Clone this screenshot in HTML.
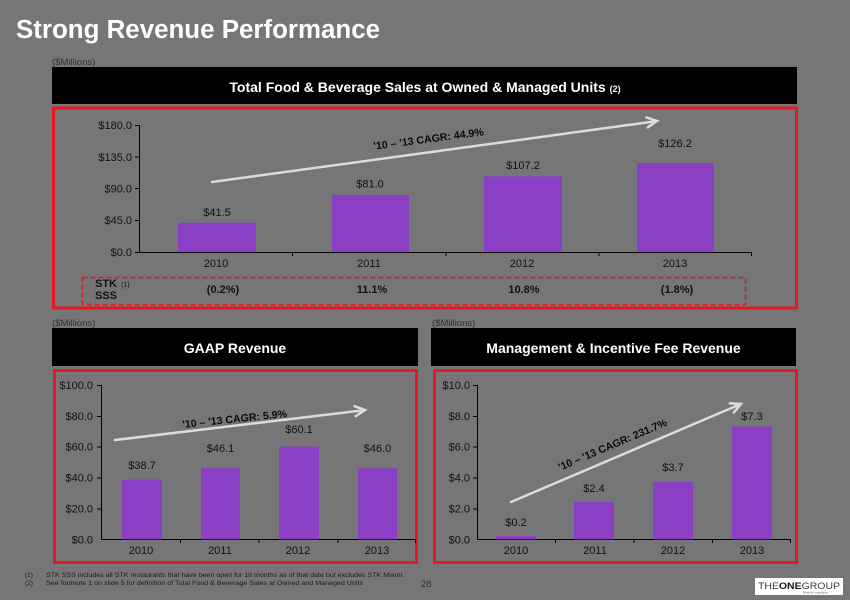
<!DOCTYPE html>
<html><head><meta charset="utf-8"><style>
html,body{margin:0;padding:0;background:#767676;}
svg{display:block;}
text{font-family:"Liberation Sans",Arial,sans-serif;}
</style></head><body>
<svg width="850" height="600" viewBox="0 0 850 600" xmlns="http://www.w3.org/2000/svg">
<rect x="0" y="0" width="850" height="600" fill="#767676"/>

<!-- Title -->
<text x="16" y="38" font-size="25.5" font-weight="bold" fill="#ffffff" textLength="364" lengthAdjust="spacingAndGlyphs">Strong Revenue Performance</text>

<!-- ===== Top section ===== -->
<text x="52" y="65" font-size="9.5" fill="#303030">($Millions)</text>
<rect x="52" y="67" width="745" height="37" fill="#000"/>
<text x="425" y="92" font-size="14" font-weight="bold" fill="#fff" text-anchor="middle">Total Food &amp; Beverage Sales at Owned &amp; Managed Units <tspan font-size="9">(2)</tspan></text>
<rect x="53.5" y="108" width="743" height="200" fill="none" stroke="#e3191f" stroke-width="3"/>

<!-- axes -->
<g stroke="#000" stroke-width="1" fill="none">
<line x1="139.5" y1="125" x2="139.5" y2="252"/>
<line x1="139" y1="252.5" x2="752" y2="252.5"/>
<line x1="135" y1="125.5" x2="139" y2="125.5"/>
<line x1="135" y1="157" x2="139" y2="157"/>
<line x1="135" y1="188.5" x2="139" y2="188.5"/>
<line x1="135" y1="220.5" x2="139" y2="220.5"/>
<line x1="135" y1="252.5" x2="139" y2="252.5"/>
<line x1="292.5" y1="252" x2="292.5" y2="256"/>
<line x1="446" y1="252" x2="446" y2="256"/>
<line x1="599" y1="252" x2="599" y2="256"/>
<line x1="751.5" y1="252" x2="751.5" y2="256"/>
</g>
<g font-size="11" fill="#111" text-anchor="end">
<text x="132" y="129">$180.0</text>
<text x="132" y="161">$135.0</text>
<text x="132" y="192.5">$90.0</text>
<text x="132" y="224">$45.0</text>
<text x="132" y="256">$0.0</text>
</g>
<g fill="#8a3fc4">
<rect x="178" y="222.7" width="78" height="29.3"/>
<rect x="332" y="194.8" width="77" height="57.2"/>
<rect x="484" y="176.4" width="78" height="75.6"/>
<rect x="637" y="163" width="77" height="89"/>
</g>
<g font-size="11" fill="#111" text-anchor="middle">
<text x="217" y="216">$41.5</text>
<text x="370" y="187.5">$81.0</text>
<text x="523" y="169">$107.2</text>
<text x="675" y="147">$126.2</text>
<text x="216" y="267">2010</text>
<text x="369" y="267">2011</text>
<text x="522" y="267">2012</text>
<text x="675" y="267">2013</text>
</g>
<!-- CAGR arrow top -->
<g stroke="#dcdcdc" stroke-width="2.5" fill="none" stroke-linecap="round">
<line x1="212" y1="182" x2="656" y2="121.2"/>
<polyline points="647.8,127.3 657,121 646.4,117.4"/>
</g>
<text x="429" y="142.5" font-size="10.6" font-weight="bold" fill="#0a0a0a" text-anchor="middle" transform="rotate(-7.5 429 142.5)">'10 – '13 CAGR: 44.9%</text>

<!-- STK SSS box -->
<rect x="82.5" y="277.5" width="663" height="27" fill="none" stroke="#e3191f" stroke-width="1.4" stroke-dasharray="5,3"/>
<text x="95" y="287" font-size="11" font-weight="bold" fill="#111">STK <tspan font-size="7" font-weight="normal" dx="1">(1)</tspan></text>
<text x="95" y="299" font-size="11" font-weight="bold" fill="#111">SSS</text>
<g font-size="11" font-weight="bold" fill="#111" text-anchor="middle">
<text x="223" y="293">(0.2%)</text>
<text x="372" y="293">11.1%</text>
<text x="524" y="293">10.8%</text>
<text x="677" y="293">(1.8%)</text>
</g>

<!-- ===== GAAP Revenue ===== -->
<text x="52" y="326" font-size="9.5" fill="#303030">($Millions)</text>
<rect x="52" y="328" width="366" height="38" fill="#000"/>
<text x="235" y="353" font-size="14" font-weight="bold" fill="#fff" text-anchor="middle">GAAP Revenue</text>
<rect x="54.5" y="370.5" width="362" height="192" fill="none" stroke="#e3191f" stroke-width="3"/>

<g stroke="#000" stroke-width="1" fill="none">
<line x1="101.5" y1="385" x2="101.5" y2="539"/>
<line x1="101" y1="539.5" x2="416" y2="539.5"/>
<line x1="97" y1="385.5" x2="101" y2="385.5"/>
<line x1="97" y1="416.5" x2="101" y2="416.5"/>
<line x1="97" y1="447" x2="101" y2="447"/>
<line x1="97" y1="478" x2="101" y2="478"/>
<line x1="97" y1="509" x2="101" y2="509"/>
<line x1="180.5" y1="539" x2="180.5" y2="543"/>
<line x1="259" y1="539" x2="259" y2="543"/>
<line x1="338" y1="539" x2="338" y2="543"/>
<line x1="415.5" y1="539" x2="415.5" y2="543"/>
</g>
<g font-size="11" fill="#111" text-anchor="end">
<text x="93" y="389">$100.0</text>
<text x="93" y="420">$80.0</text>
<text x="93" y="450.7">$60.0</text>
<text x="93" y="481.6">$40.0</text>
<text x="93" y="512.5">$20.0</text>
<text x="93" y="543.3">$0.0</text>
</g>
<g fill="#8a3fc4">
<rect x="122" y="479.6" width="40" height="59.7"/>
<rect x="201" y="468.2" width="39" height="71.1"/>
<rect x="279" y="446.6" width="40" height="92.7"/>
<rect x="358" y="468.3" width="39" height="71"/>
</g>
<g font-size="11" fill="#111" text-anchor="middle">
<text x="142" y="469">$38.7</text>
<text x="220.5" y="452">$46.1</text>
<text x="299" y="433">$60.1</text>
<text x="377.5" y="452">$46.0</text>
<text x="141" y="554">2010</text>
<text x="220" y="554">2011</text>
<text x="298" y="554">2012</text>
<text x="377" y="554">2013</text>
</g>
<g stroke="#dcdcdc" stroke-width="2.5" fill="none" stroke-linecap="round">
<line x1="115" y1="440" x2="364" y2="410.2"/>
<polyline points="355.7,416.2 365,410 354.5,406.2"/>
</g>
<text x="235" y="422.5" font-size="10.6" font-weight="bold" fill="#0a0a0a" text-anchor="middle" transform="rotate(-6 235 422.5)">'10 – '13 CAGR: 5.9%</text>

<!-- ===== Management & Incentive Fee Revenue ===== -->
<text x="432" y="326" font-size="9.5" fill="#303030">($Millions)</text>
<rect x="431" y="328" width="365" height="38" fill="#000"/>
<text x="613.5" y="353" font-size="14" font-weight="bold" fill="#fff" text-anchor="middle">Management &amp; Incentive Fee Revenue</text>
<rect x="434.5" y="370.5" width="362" height="192" fill="none" stroke="#e3191f" stroke-width="3"/>

<g stroke="#000" stroke-width="1" fill="none">
<line x1="477.5" y1="385" x2="477.5" y2="539"/>
<line x1="477" y1="539.5" x2="791" y2="539.5"/>
<line x1="473" y1="385.5" x2="477" y2="385.5"/>
<line x1="473" y1="416.5" x2="477" y2="416.5"/>
<line x1="473" y1="447" x2="477" y2="447"/>
<line x1="473" y1="478" x2="477" y2="478"/>
<line x1="473" y1="509" x2="477" y2="509"/>
<line x1="555.5" y1="539" x2="555.5" y2="543"/>
<line x1="634" y1="539" x2="634" y2="543"/>
<line x1="712.5" y1="539" x2="712.5" y2="543"/>
<line x1="790.5" y1="539" x2="790.5" y2="543"/>
</g>
<g font-size="11" fill="#111" text-anchor="end">
<text x="470" y="389">$10.0</text>
<text x="470" y="420">$8.0</text>
<text x="470" y="450.7">$6.0</text>
<text x="470" y="481.6">$4.0</text>
<text x="470" y="512.5">$2.0</text>
<text x="470" y="543.3">$0.0</text>
</g>
<g fill="#8a3fc4">
<rect x="496" y="536" width="40" height="3.3"/>
<rect x="574" y="502" width="40" height="37.3"/>
<rect x="653" y="482" width="40" height="57.3"/>
<rect x="732" y="426.6" width="40" height="112.7"/>
</g>
<g font-size="11" fill="#111" text-anchor="middle">
<text x="516" y="526">$0.2</text>
<text x="594" y="492">$2.4</text>
<text x="673" y="471">$3.7</text>
<text x="752" y="420">$7.3</text>
<text x="516" y="554">2010</text>
<text x="595" y="554">2011</text>
<text x="673" y="554">2012</text>
<text x="752" y="554">2013</text>
</g>
<g stroke="#dcdcdc" stroke-width="2.5" fill="none" stroke-linecap="round">
<line x1="511" y1="502" x2="740" y2="404.4"/>
<polyline points="733.8,412.5 741,404 729.8,403.3"/>
</g>
<text x="614" y="448" font-size="10.6" font-weight="bold" fill="#0a0a0a" text-anchor="middle" transform="rotate(-23 614 448)">'10 – '13 CAGR: 231.7%</text>

<!-- Footnotes -->
<g font-size="6.5" fill="#1a1a1a">
<text x="25" y="577">(1)</text>
<text x="46" y="577" textLength="358" lengthAdjust="spacingAndGlyphs">STK SSS includes all STK restaurants that have been open for 18 months as of that date but excludes STK Miami.</text>
<text x="25" y="585">(2)</text>
<text x="46" y="585" textLength="317" lengthAdjust="spacingAndGlyphs">See footnote 1 on slide 5 for definition of Total Food &amp; Beverage Sales at Owned and Managed Units</text>
</g>
<text x="421" y="587" font-size="9.5" fill="#333">28</text>

<!-- Logo -->
<rect x="755" y="578" width="88" height="17" fill="#ffffff"/>
<text x="758" y="589" font-size="9.5" fill="#3a3a3a" textLength="82" lengthAdjust="spacingAndGlyphs">THE<tspan font-weight="bold" fill="#111">ONE</tspan>GROUP</text>
<text x="803" y="593.5" font-size="3" fill="#666" textLength="25" lengthAdjust="spacingAndGlyphs">lifestyle hospitality</text>
</svg>
</body></html>
